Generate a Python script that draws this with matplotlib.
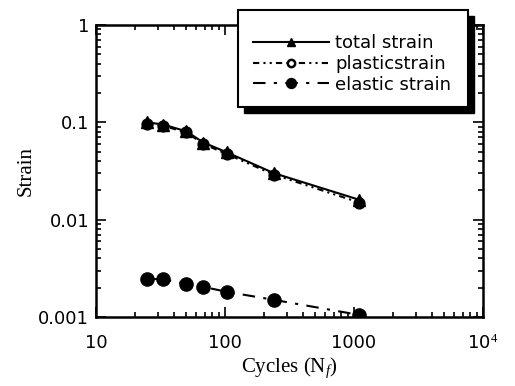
import matplotlib
matplotlib.use("Agg")
import matplotlib.pyplot as plt
import matplotlib.ticker as mticker
from matplotlib.patches import Rectangle

plt.rcParams['mathtext.fontset'] = 'custom'
plt.rcParams['mathtext.rm'] = 'Liberation Serif'
plt.rcParams['mathtext.it'] = 'Liberation Serif:italic'

cycles = [25, 33, 50, 68, 104, 240, 1100]
total_strain = [0.100, 0.095, 0.081, 0.062, 0.049, 0.030, 0.016]
plastic_strain = [0.097, 0.092, 0.079, 0.060, 0.047, 0.029, 0.015]
elastic_strain = [0.00246, 0.00245, 0.00219, 0.00204, 0.00181, 0.00150, 0.00105]

xticks = [10, 100, 1000, 10000]
xticklabels = ['10', '100', '1000', r'10$^4$']
yticks = [0.001, 0.01, 0.1, 1]
yticklabels = ['0.001', '0.01', '0.1', '1']

W, H = 515, 386
fig = plt.figure(figsize=(W / 100, H / 100), dpi=100)
ax = fig.add_axes([96 / W, 1 - 317 / H, (483 - 96) / W, (317 - 25) / H])

l2, = ax.plot(cycles, plastic_strain, color='k', lw=1.5, ls=(0, (3, 2, 1, 2, 1, 2)),
              marker='o', ms=7, mfc='white', mec='k', mew=1.8, label='plasticstrain',
              zorder=2)
l1, = ax.plot(cycles, total_strain, color='k', lw=1.5, ls='-', marker='^', ms=8,
              mfc='k', mec='k', label='total strain', zorder=3)
l3, = ax.plot(cycles, elastic_strain, color='k', lw=1.5, ls=(0, (6, 4, 1.5, 4)),
              marker='o', ms=9.5, mfc='k', mec='k', label='elastic strain', zorder=3)

ax.set_xscale('log')
ax.set_yscale('log')
ax.set_xlim(10, 10000)
ax.set_ylim(0.001, 1)

tickfont = dict(family='DejaVu Sans', size=13)
ax.set_xticks(xticks)
ax.set_xticklabels(xticklabels, **tickfont)
ax.set_yticks(yticks)
ax.set_yticklabels(yticklabels, **tickfont)
ax.xaxis.set_minor_locator(mticker.LogLocator(base=10, subs=range(2, 10)))
ax.yaxis.set_minor_locator(mticker.LogLocator(base=10, subs=range(2, 10)))
ax.xaxis.set_minor_formatter(mticker.NullFormatter())
ax.yaxis.set_minor_formatter(mticker.NullFormatter())
ax.tick_params(which='both', direction='in', top=True, right=True, width=1.2)
ax.tick_params(which='major', length=7)
ax.tick_params(axis='x', which='major', pad=12)
ax.tick_params(axis='y', which='major', pad=5)
ax.tick_params(which='minor', length=3.5)
for s in ax.spines.values():
    s.set_linewidth(1.8)

ax.set_xlabel(r'Cycles (N$_{\it f}$)', family='Liberation Serif', size=15, labelpad=2)
ax.set_ylabel('Strain', family='Liberation Serif', size=15, labelpad=1.5)

# legend box with solid black drop shadow
bx0, by0, bx1, by1 = 238, 10, 468, 107
off = 6
shadow = Rectangle(((bx0 + off) / W, 1 - (by1 + off) / H), (bx1 - bx0) / W, (by1 - by0) / H,
                   transform=fig.transFigure, facecolor='k', edgecolor='k', zorder=5)
box = Rectangle((bx0 / W, 1 - by1 / H), (bx1 - bx0) / W, (by1 - by0) / H,
                transform=fig.transFigure, facecolor='white', edgecolor='k', lw=1.5, zorder=6)
fig.add_artist(shadow)
fig.add_artist(box)

leg = fig.legend(handles=[l1, l2, l3], loc='center left',
                 bbox_to_anchor=(253 / W, 1 - 64 / H), frameon=False,
                 handlelength=4.2, handletextpad=0.35, borderpad=0,
                 labelspacing=0.15, borderaxespad=0, markerscale=0.75,
                 prop={'family': 'DejaVu Sans', 'size': 13})
leg.set_zorder(7)

fig.savefig('out.png', dpi=100)
